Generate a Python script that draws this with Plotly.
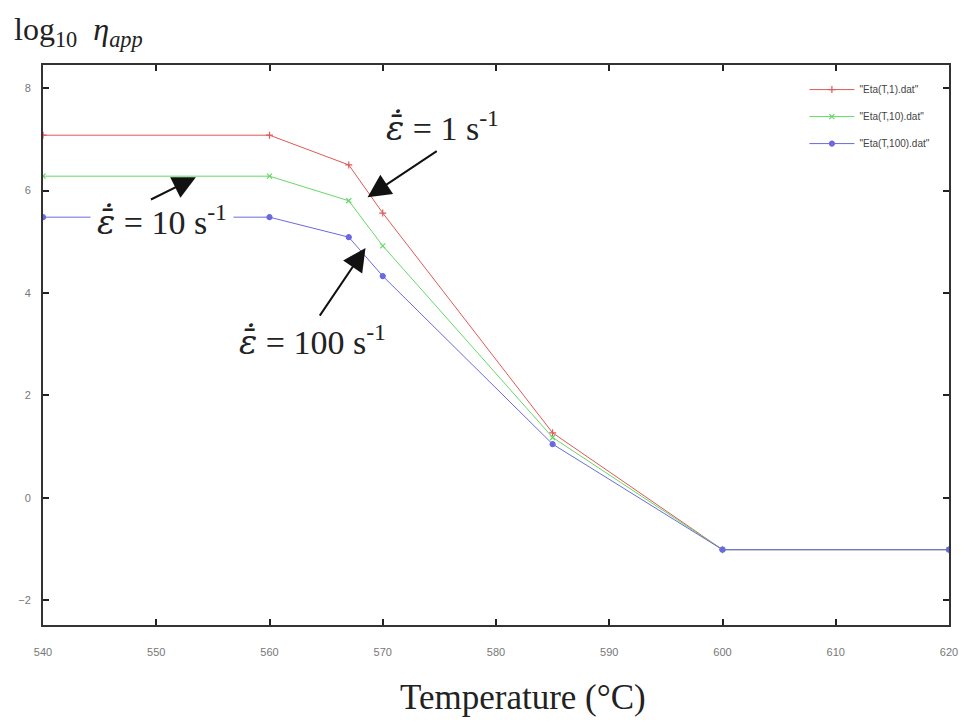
import plotly.graph_objects as go

temps = [540, 560, 567, 570, 585, 600, 620]
eta_1 = [7.08, 7.08, 6.50, 5.56, 1.27, -1.01, -1.01]
eta_10 = [6.28, 6.28, 5.80, 4.92, 1.18, -1.01, -1.01]
eta_100 = [5.48, 5.48, 5.09, 4.33, 1.05, -1.01, -1.01]
names = ['"Eta(T,1).dat"', '"Eta(T,10).dat"', '"Eta(T,100).dat"']
x_ticks = [540, 550, 560, 570, 580, 590, 600, 610, 620]
y_ticks = [-2, 0, 2, 4, 6, 8]

colors = ["#e05858", "#66d866", "#6a6ae0"]
symbols = ["cross-thin", "x-thin", "circle"]
msizes = [5, 5, 5]

fig = go.Figure()
for i, (ys, nm) in enumerate(zip([eta_1, eta_10, eta_100], names)):
    fig.add_trace(go.Scatter(
        x=temps, y=ys, name=nm, mode="lines+markers", legendgroup=str(i),
        line=dict(color=colors[i], width=1),
        marker=dict(symbol=symbols[i], size=msizes[i], color=colors[i],
                    line=dict(color=colors[i], width=1.2)),
    ))

serif = "Liberation Serif, Times New Roman, serif"
eps = "<span style=\"font-family:'DejaVu Serif'\"><i>\u03b5\u0304\u0307</i></span>"
ann_font = dict(family=serif, size=34, color="#222")

arrow_style = dict(xref="x", yref="y", axref="x", ayref="y", text="", showarrow=True,
                   arrowhead=2, arrowsize=2.3, arrowwidth=2, arrowcolor="#111")

annotations = [
    dict(x=575.3, y=7.24, xref="x", yref="y", text=eps + " = 1 s<sup>-1</sup>",
         showarrow=False, font=ann_font),
    dict(x=550.5, y=5.42, xref="x", yref="y", text=eps + " = 10 s<sup>-1</sup>",
         showarrow=False, font=ann_font, bgcolor="white", borderpad=6),
    dict(x=563.8, y=3.08, xref="x", yref="y", text=eps + " = 100 s<sup>-1</sup>",
         showarrow=False, font=ann_font),
    dict(x=568.66, y=5.87, ax=574.9, ay=6.79, **arrow_style),
    dict(x=553.5, y=6.26, ax=549.4, ay=5.81, **arrow_style),
    dict(x=568.48, y=4.88, ax=564.35, ay=3.53, **arrow_style),
    dict(x=0.53, y=-0.1286, xref="paper", yref="paper", xanchor="center", yanchor="middle",
         text="Temperature (\u00b0C)", showarrow=False,
         font=dict(family=serif, size=35, color="#222")),
    dict(x=-0.034, y=1.06, xref="paper", yref="paper", xanchor="left", yanchor="middle",
         text="log<sub>10</sub>  <i>\u03b7<sub>app</sub></i>", showarrow=False,
         font=dict(family=serif, size=32, color="#222")),
]

tick_font = dict(family="Liberation Sans Narrow, Liberation Sans, sans-serif", size=11, color="#777")
axis_common = dict(showgrid=False, zeroline=False, showline=True, linewidth=2, linecolor="#333",
                   mirror="ticks", ticks="inside", ticklen=6, tickwidth=1.5, tickcolor="#222",
                   tickfont=tick_font)

fig.update_layout(
    width=970, height=722,
    margin=dict(l=43, r=17, t=65, b=97),
    paper_bgcolor="white", plot_bgcolor="white",
    xaxis=dict(range=[540, 620], tickvals=x_ticks, ticklabelstandoff=16, **axis_common),
    yaxis=dict(range=[-2.48, 8.45], tickvals=y_ticks, ticklabelstandoff=8, **axis_common),
    showlegend=True,
    legend=dict(x=0.985, y=0.982, xanchor="right", yanchor="top", bgcolor="rgba(0,0,0,0)",
                font=dict(family="Liberation Sans Narrow, Liberation Sans, sans-serif", size=10, color="#444"),
                tracegroupgap=8, itemwidth=45),
    annotations=annotations,
)

fig.write_html("out.html", config={"displayModeBar": False},
               post_script="document.body.style.margin='0';document.body.style.overflow='hidden';")
